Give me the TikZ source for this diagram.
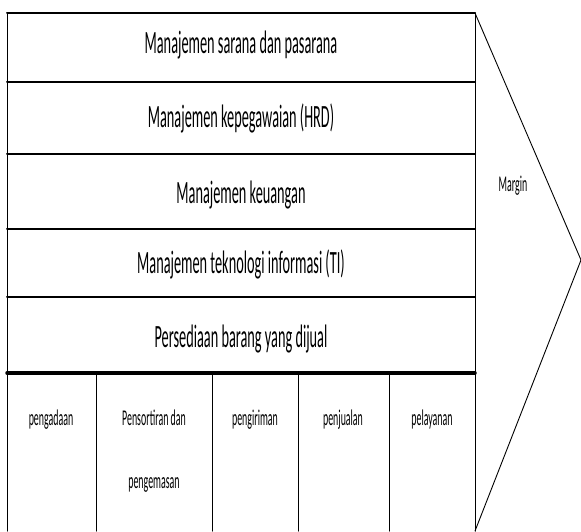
\documentclass[tikz,border=0pt]{standalone}
\usepackage{fontspec}
\setmainfont{Carlito}
\newfontfamily\narrowfont[FakeStretch=0.44]{Carlito}

\begin{document}
\begin{tikzpicture}[x=1pt,y=-1pt,line cap=round,line join=round,
  rowtext/.style={anchor=base,inner sep=0pt,font=\narrowfont\fontsize{32.5}{36}\selectfont},
  celltext/.style={anchor=base,inner sep=0pt,font=\narrowfont\fontsize{22.5}{26}\selectfont}]
  \useasboundingbox (0,0) rectangle (581,531);
  \coordinate (A) at (7,13);
  \coordinate (B) at (475,13);
  \coordinate (C) at (7,531);
  \coordinate (D) at (475,531);
  \coordinate (T) at (581,260);
  \draw[line width=1pt] (A)--(C);
  \draw[line width=1pt] (B)--(D);
  \draw[line width=2pt] (A)--(B);
  \foreach \y in {82,154,229,297}
    \draw[line width=2pt] (7,\y)--(475,\y);
  \draw[line width=3.5pt] (7,373)--(475,373);
  \foreach \x in {96,212,298,389}
    \draw[line width=1pt] (\x,373)--(\x,531);
  \draw[line width=0.9pt] (B)--(T)--(D);
  \node[rowtext] (r1) at (241,53) {Manajemen sarana dan pasarana};
  \node[rowtext] (r2) at (241,127) {Manajemen kepegawaian (HRD)};
  \node[rowtext] (r3) at (241,203) {Manajemen keuangan};
  \node[rowtext] (r4) at (241,273) {Manajemen teknologi informasi (TI)};
  \node[rowtext] (r5) at (241,347) {Persediaan barang yang dijual};
  \node[celltext] (c1) at (51,425) {pengadaan};
  \node[celltext] (c2) at (154,425) {Pensortiran dan};
  \node[celltext] (c2b) at (154,488) {pengemasan};
  \node[celltext] (c3) at (255,425) {pengiriman};
  \node[celltext] (c4) at (343,425) {penjualan};
  \node[celltext] (c5) at (432,425) {pelayanan};
  \node[celltext] (m) at (513,191) {Margin};
\end{tikzpicture}
\end{document}
